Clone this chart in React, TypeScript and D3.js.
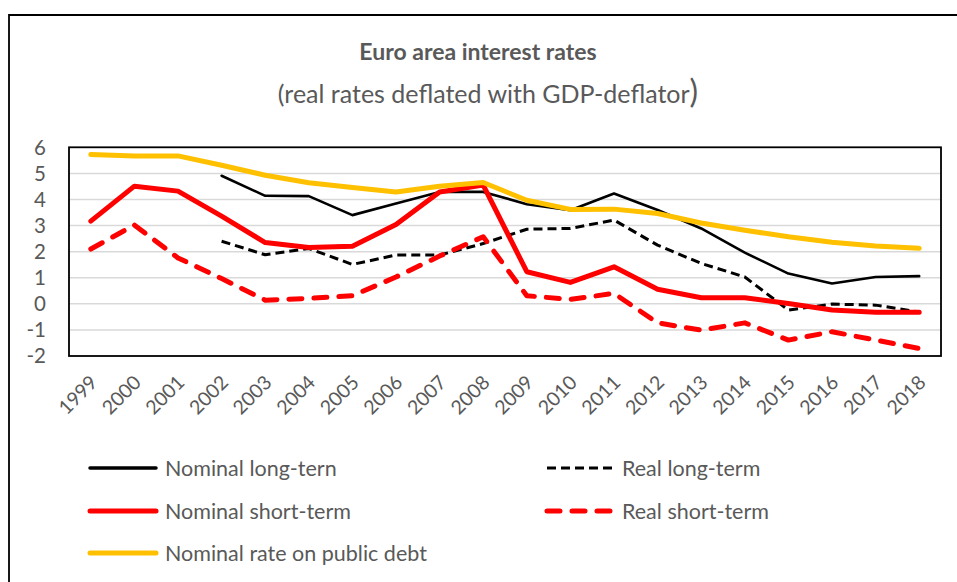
import React from "react";
import * as d3 from "d3";

const years = ["1999","2000","2001","2002","2003","2004","2005","2006","2007","2008","2009","2010","2011","2012","2013","2014","2015","2016","2017","2018"];
const yTicks = [-2, -1, 0, 1, 2, 3, 4, 5, 6];

const nominalLong: (number | null)[] = [null, null, null, 4.91, 4.14, 4.13, 3.40, 3.85, 4.29, 4.29, 3.82, 3.59, 4.23, 3.60, 2.89, 1.96, 1.16, 0.78, 1.03, 1.06];
const realLong: (number | null)[] = [null, null, null, 2.40, 1.88, 2.12, 1.51, 1.87, 1.87, 2.31, 2.86, 2.89, 3.21, 2.25, 1.55, 1.03, -0.24, -0.01, -0.05, -0.31];
const nominalShort: (number | null)[] = [3.17, 4.51, 4.32, 3.36, 2.35, 2.16, 2.21, 3.04, 4.29, 4.55, 1.23, 0.82, 1.42, 0.56, 0.23, 0.23, 0.01, -0.24, -0.32, -0.32];
const realShort: (number | null)[] = [2.10, 3.02, 1.76, 0.97, 0.14, 0.21, 0.31, 1.03, 1.83, 2.57, 0.31, 0.17, 0.40, -0.73, -1.01, -0.73, -1.39, -1.07, -1.39, -1.71];
const publicDebt: (number | null)[] = [5.72, 5.67, 5.67, 5.31, 4.93, 4.64, 4.46, 4.29, 4.51, 4.65, 3.97, 3.62, 3.63, 3.46, 3.10, 2.82, 2.57, 2.36, 2.22, 2.13];

const seriesNames = ["Nominal long-tern", "Real long-term", "Nominal short-term", "Real short-term", "Nominal rate on public debt"];

const FONT = "Lato, 'Open Sans', sans-serif";
const TXT = "#595959";

export default function App() {
  const x = d3.scaleBand<string>().domain(years).range([69, 941]);
  const cx = (yr: string) => (x(yr) as number) + x.bandwidth() / 2;
  const y = d3.scaleLinear().domain([-2, 6]).range([356, 147.3]);

  const line = (vals: (number | null)[]) =>
    d3
      .line<number | null>()
      .defined((d) => d !== null)
      .x((_, i) => cx(years[i]))
      .y((d) => y(d as number))(vals) as string;

  const series = [
    { name: seriesNames[0], data: nominalLong, color: "#000000", width: 2.6, dash: "", cap: "round" },
    { name: seriesNames[1], data: realLong, color: "#000000", width: 3, dash: "9,5", cap: "butt" },
    { name: seriesNames[2], data: nominalShort, color: "#FF0000", width: 5, dash: "", cap: "round" },
    { name: seriesNames[3], data: realShort, color: "#FF0000", width: 5, dash: "13,12", cap: "round" },
    { name: seriesNames[4], data: publicDebt, color: "#FFC000", width: 5, dash: "", cap: "round" },
  ];

  const legendPos = [
    { x: 88, y: 468 },
    { x: 545, y: 468 },
    { x: 88, y: 511 },
    { x: 545, y: 511 },
    { x: 88, y: 553 },
  ];

  return (
    <svg width={957} height={582} style={{ position: "absolute", left: 0, top: 0, background: "#fff" }} fontFamily={FONT}>
      <rect x={0} y={0} width={957} height={582} fill="#fff" />
      <path d="M9,582 L9,15 L957,15" fill="none" stroke="#000" strokeWidth={1.8} />

      <text x={478} y={60} textAnchor="middle" fontSize={23} fontWeight="bold" fill={TXT}>
        Euro area interest rates
      </text>
      <text x={488} y={103} textAnchor="middle" fontSize={25} fill={TXT}>
        (real rates deflated with GDP-deflator<tspan fontSize={32}>)</tspan>
      </text>

      {yTicks.slice(1, -1).map((t) => (
        <line key={"g" + t} x1={69} x2={941} y1={y(t)} y2={y(t)} stroke="#D9D9D9" strokeWidth={1.5} />
      ))}
      <rect x={69} y={y(6)} width={941 - 69} height={y(-2) - y(6)} fill="none" stroke="#000" strokeWidth={1.8} />

      {yTicks.map((t) => (
        <text key={"t" + t} x={46} y={y(t)} dy="0.36em" textAnchor="end" fontSize={20.5} fill={TXT}>
          {t}
        </text>
      ))}

      {years.map((yr) => (
        <text
          key={yr}
          transform={`translate(${cx(yr) + 3},${379}) rotate(-45)`}
          dy="0.35em"
          textAnchor="end"
          fontSize={19.5}
          fill={TXT}
        >
          {yr}
        </text>
      ))}

      {series.map((s) => (
        <path
          key={s.name}
          d={line(s.data)}
          fill="none"
          stroke={s.color}
          strokeWidth={s.width}
          strokeDasharray={s.dash || undefined}
          strokeLinecap={s.cap as any}
          strokeLinejoin="round"
        />
      ))}

      {series.map((s, i) => (
        <g key={"l" + s.name} transform={`translate(${legendPos[i].x},${legendPos[i].y})`}>
          <line x1={2} x2={68} y1={0} y2={0} stroke={s.color} strokeWidth={s.width === 2.6 ? 3.5 : s.width} strokeDasharray={s.dash || undefined} strokeLinecap={s.cap as any} />
          <text x={77} y={0} dy="0.35em" fontSize={21.5} fill={TXT}>
            {s.name}
          </text>
        </g>
      ))}
    </svg>
  );
}
